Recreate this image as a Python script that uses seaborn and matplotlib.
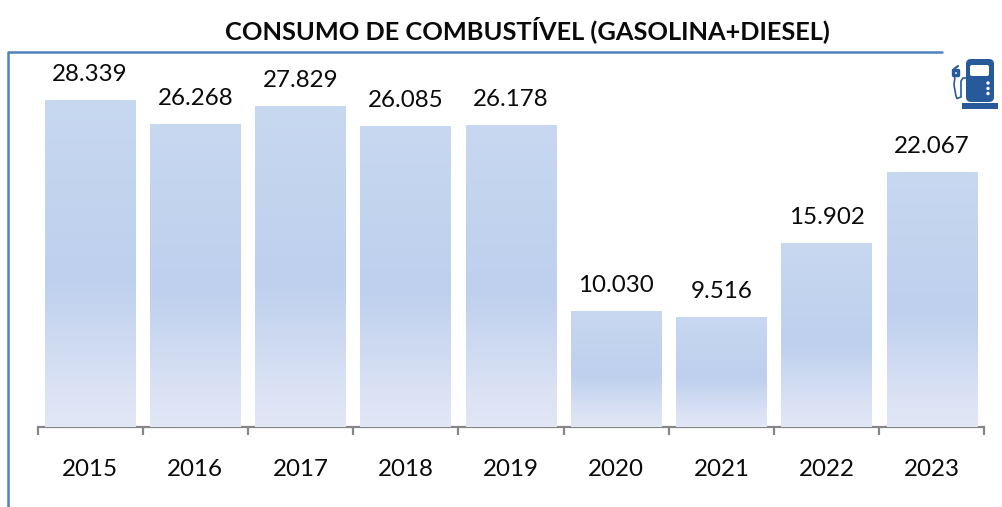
import numpy as np
import pandas as pd
import matplotlib.pyplot as plt
import seaborn as sns
from matplotlib.colors import LinearSegmentedColormap
from matplotlib.lines import Line2D
from matplotlib.patches import FancyBboxPatch, Rectangle, Circle

anos = ["2015", "2016", "2017", "2018", "2019", "2020", "2021", "2022", "2023"]
consumo = [28339, 26268, 27829, 26085, 26178, 10030, 9516, 15902, 22067]
rotulos = ["28.339", "26.268", "27.829", "26.085", "26.178", "10.030", "9.516", "15.902", "22.067"]

W, H = 1003, 507
sns.set_theme(style="white")
plt.rcParams["font.family"] = ["Lato", "DejaVu Sans"]

df = pd.DataFrame({"ano": anos, "consumo": consumo})

fig = plt.figure(figsize=(W / 100, H / 100), dpi=100)
ax = fig.add_axes([37.5 / W, 1 - 427 / H, (984.5 - 37.5) / W, (427 - 60) / H])
sns.barplot(data=df, x="ano", y="consumo", color="#C5D5F0", width=0.862, ax=ax, zorder=2)
ax.set_xlim(-0.5, 8.5)
ax.set_ylim(0, 367 / 0.01154)

# gradiente de cada barra
cmap = LinearSegmentedColormap.from_list(
    "barra", [(0, "#E2E7F6"), (0.12, "#DAE2F4"), (0.45, "#BED0EE"), (0.75, "#C3D4EF"), (1, "#C8D8F1")]
)
grad = np.linspace(1, 0, 256).reshape(-1, 1)
for patch in list(ax.patches):
    x0, y0 = patch.get_x(), patch.get_y()
    im = ax.imshow(grad, cmap=cmap, vmin=0, vmax=1, aspect="auto", zorder=3,
                   extent=[x0, x0 + patch.get_width(), y0, y0 + patch.get_height()])
    im.set_clip_path(patch)
ax.set_xlim(-0.5, 8.5)
ax.set_ylim(0, 367 / 0.01154)

for i, (v, rot) in enumerate(zip(consumo, rotulos)):
    ax.annotate(rot, (i, v), xytext=(0, 11), textcoords="offset points", ha="center", va="bottom",
                fontsize=17.4, color="#0A0A0A", zorder=4)

# eixo x: marcas entre as categorias
ax.set_xticks(np.arange(-0.5, 9, 1))
ax.set_xticklabels([])
ax.set_xticks(np.arange(9), labels=anos, minor=True)
ax.tick_params(axis="x", which="major", length=6, width=1.6, color="#868686", bottom=True)
ax.tick_params(axis="x", which="minor", length=0, pad=23, labelsize=17.4, labelcolor="#0A0A0A", bottom=False)
ax.set_yticks([])
ax.set_xlabel("")
ax.set_ylabel("")
sns.despine(ax=ax, left=True)
ax.spines["bottom"].set_color("#868686")
ax.spines["bottom"].set_linewidth(1.6)

fig.text(527 / W, 1 - 30 / H, "CONSUMO DE COMBUSTÍVEL (GASOLINA+DIESEL)", ha="center", va="center",
         fontsize=18.3, fontweight="bold", color="#0A0A0A")

# moldura azul em cima e a esquerda
moldura = "#4F81BD"
fig.add_artist(Line2D([8.5 / W, 8.5 / W, 942 / W], [0, 1 - 52 / H, 1 - 52 / H], color=moldura, lw=1.8))

# icone da bomba, em pixels
ic = fig.add_axes([0, 0, 1, 1], facecolor="none")
ic.set_xlim(0, W)
ic.set_ylim(H, 0)
ic.axis("off")
azul = "#265A9A"
ic.add_patch(FancyBboxPatch((971, 64), 18, 33, boxstyle="round,pad=5,rounding_size=5", fc=azul, ec="none"))
ic.add_patch(Rectangle((962, 102.5), 36, 6.5, fc=azul, ec="none"))
ic.add_patch(FancyBboxPatch((972, 67), 15, 7, boxstyle="round,pad=2,rounding_size=2", fc="white", ec="none"))
for y in [83, 88.5, 93.5]:
    ic.add_patch(Circle((988, y), 1.7, fc="white", ec="none"))
ic.plot([966, 963, 961, 961, 957, 956, 954, 955], [78, 78, 81, 97, 98.5, 96, 85, 76], color=azul, lw=1.2)
ic.plot([953, 953, 958, 958, 953], [70, 75, 75, 70, 70], color=azul, lw=2.4)
ic.plot([954, 958], [69, 66], color=azul, lw=1.5)

fig.savefig("out.png", dpi=100)
